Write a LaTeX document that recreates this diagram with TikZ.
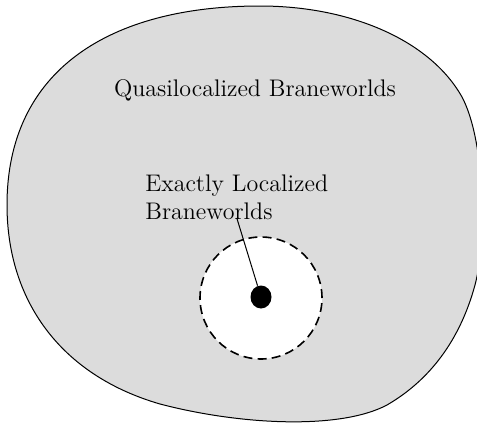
\documentclass[tikz,border=0pt]{standalone}
\usepackage{tikz}
\usetikzlibrary{shapes.geometric}
\definecolor{blobgray}{RGB}{220,220,220}
\tikzset{
BLOB/.style={draw=black,line width=0.5pt,fill=blobgray},
HOLE/.style={draw=black,dashed,dash pattern=on 4.5pt off 2.6pt,line width=0.8pt,fill=white},
TEXTLINE/.style={draw=black,line width=0.5pt},
}

\begin{document}
\begin{tikzpicture}[x=0.5pt,y=-0.5pt]
	\clip (0,0) rectangle (477,423);
	%blob
	\path[BLOB] (7,205) .. controls (7,70) and (110,6) .. (260,6)
		.. controls (350,6) and (430,40) .. (462,97)
		.. controls (485,140) and (487,240) .. (475,285)
		.. controls (460,340) and (430,380) .. (387,405)
		.. controls (340,430) and (240,425) .. (160,404)
		.. controls (60,375) and (7,300) .. cycle;
	\node[font=\large] (quasi) at (255,90) {Quasilocalized Braneworlds};
	%hole
	\node[circle,HOLE,minimum size=61pt,inner sep=0pt] (hole) at (261,298) {};
	\node[ellipse,fill=black,minimum width=10.5pt,minimum height=11.5pt,inner sep=0pt] (dot) at (261,297) {};
	\node[font=\large,align=left,anchor=south west,inner sep=0pt] (exact) at (145,220) {Exactly Localized\\Braneworlds};
	\path[TEXTLINE] (exact.south) ++(0,-2) -- (dot);
\end{tikzpicture}
\end{document}
